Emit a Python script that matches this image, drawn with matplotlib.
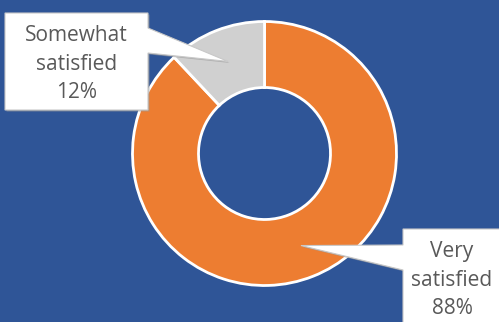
import matplotlib.pyplot as plt
from matplotlib.patches import Polygon
import numpy as np

labels = ["Very satisfied", "Somewhat satisfied"]
values = [88, 12]
colors = ["#ED7D31", "#D0D0D0"]

bg = "#2F5597"
W, H = 499, 322

fig = plt.figure(figsize=(W / 100, H / 100), dpi=100, facecolor=bg)
ax = fig.add_axes([0, 0, 1, 1])
ax.set_facecolor(bg)

cx, cy, R = 264.5, H - 153.5, 132
wedges, _ = ax.pie(values, colors=colors, startangle=90, counterclock=False,
                   center=(cx, cy), radius=R,
                   wedgeprops=dict(width=R * 0.5, edgecolor="white", linewidth=2))
ax.set_xlim(0, W)
ax.set_ylim(0, H)
ax.set_aspect("auto")
ax.axis("off")

# callout boxes (pixel coords, top-down y) and pointer base on box edge
boxes = {
    "Very satisfied": dict(x0=403, x1=505, y0=229, y1=330, side="left", b0=245, b1=270,
                           tx=452, ty=280),
    "Somewhat satisfied": dict(x0=5, x1=148, y0=13, y1=110, side="right", b0=28, b1=53,
                               tx=76.5, ty=64),
}

total = sum(values)
for w, lab, v in zip(wedges, labels, values):
    mid = np.deg2rad((w.theta1 + w.theta2) / 2)
    rm = R * 0.75
    tip = (cx + rm * np.cos(mid), cy + rm * np.sin(mid))
    b = boxes[lab]
    x0, x1 = b["x0"], b["x1"]
    y0, y1 = H - b["y0"], H - b["y1"]
    p0, p1 = H - b["b0"], H - b["b1"]
    if b["side"] == "right":
        pts = [(x0, y0), (x1, y0), (x1, p0), tip, (x1, p1), (x1, y1), (x0, y1)]
    else:
        pts = [(x0, y0), (x1, y0), (x1, y1), (x0, y1), (x0, p1), tip, (x0, p0)]
    # soft shadow
    sh = [(px + 1.5, py - 1.5) for px, py in pts]
    ax.add_patch(Polygon(sh, closed=True, facecolor="#9a9a9a", edgecolor="none",
                         alpha=0.6, zorder=3))
    ax.add_patch(Polygon(pts, closed=True, facecolor="white", edgecolor="#c8c8c8",
                         linewidth=0.8, zorder=4))
    txt = lab.replace(" ", "\n") + "\n" + f"{round(100 * v / total)}%"
    ax.text(b["tx"], H - b["ty"], txt, ha="center", va="center", fontsize=15,
            color="#595959", family="Open Sans", linespacing=1.45, zorder=5)

fig.savefig("out.png", dpi=100, facecolor=bg)
